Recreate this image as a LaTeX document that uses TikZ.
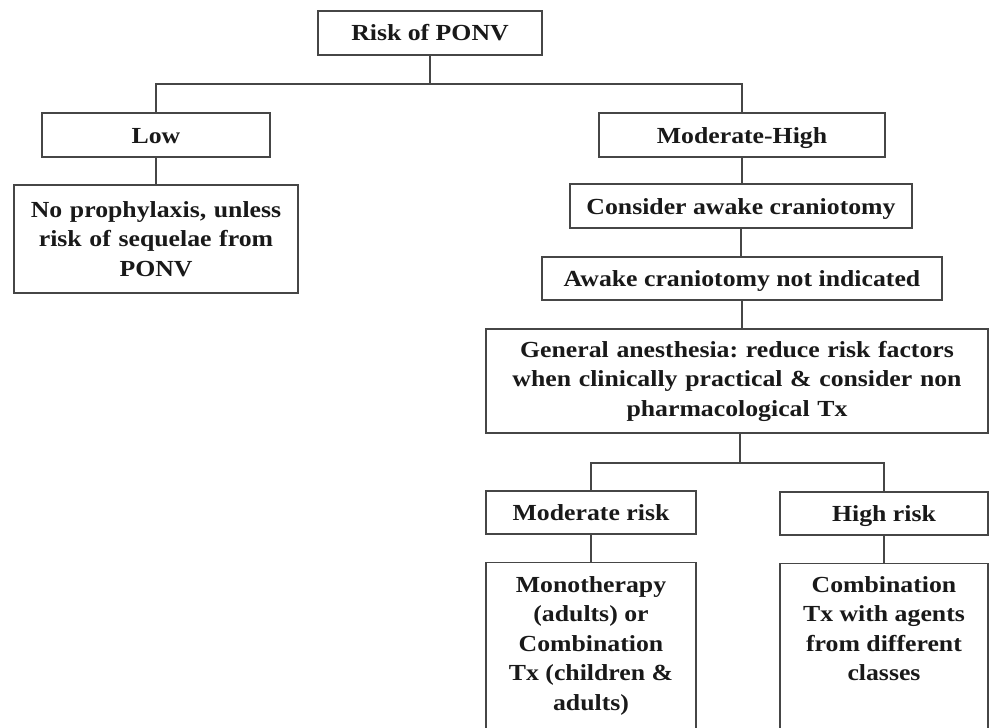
\documentclass[tikz,border=0pt]{standalone}
\usepackage{fontspec}
\setmainfont{Liberation Serif}[FakeStretch=1.12]
\definecolor{linec}{RGB}{70,70,70}
\definecolor{txt}{RGB}{25,25,25}
\frenchspacing
\begin{document}
\begin{tikzpicture}[x=1pt,y=-1pt,
  box/.style={draw=linec, line width=1.4pt, rectangle, inner sep=0pt,
    font=\bfseries\fontsize{23}{29.5}\selectfont, align=center, text=txt},
  one/.style={box, text height=16pt, text depth=0pt},
  plain/.style={inner sep=0pt, font=\bfseries\fontsize{23}{29.5}\selectfont, align=center, text=txt},
  conn/.style={draw=linec, line width=1.4pt}]
\useasboundingbox (0,0) rectangle (989,728);
\clip (0,0) rectangle (989,728);
\fill[white] (0,0) rectangle (989,728);

\node[one, minimum width=224pt, minimum height=44pt] (root) at (430,33) {Risk of PONV};
\node[one, minimum width=228pt, minimum height=44pt] (low) at (156,135) {Low};
\node[box, minimum width=284pt, minimum height=108pt, text width=280pt] (noproph) at (156,239)
  {No prophylaxis, unless\\risk of sequelae from\\PONV};
\node[one, minimum width=286pt, minimum height=44pt] (modhigh) at (742,135) {Moderate-High};
\node[one, minimum width=342pt, minimum height=44pt] (consider) at (741,206) {Consider awake craniotomy};
\node[one, minimum width=400pt, minimum height=43pt] (awake) at (742,278.5) {Awake craniotomy not indicated};
\node[box, minimum width=502pt, minimum height=104pt, text width=495pt] (ga) at (737,381)
  {General anesthesia: reduce risk factors\\when clinically practical \& consider non\\pharmacological Tx};
\node[one, minimum width=210pt, minimum height=43pt] (modrisk) at (591,512.5) {Moderate risk};
\node[one, minimum width=208pt, minimum height=43pt] (highrisk) at (884,513.5) {High risk};

\node[draw=linec, line width=1.4pt, rectangle, minimum width=210pt, minimum height=200pt, anchor=north] (mono) at (591,562) {};
\node[plain, anchor=north] (monotxt) at (mono.north |- 0,576)
  {Monotherapy\\(adults) or\\Combination\\Tx (children \&\\adults)};
\node[draw=linec, line width=1.4pt, rectangle, minimum width=208pt, minimum height=200pt, anchor=north] (combo) at (884,563) {};
\node[plain, anchor=north] (combotxt) at (combo.north |- 0,576)
  {Combination\\Tx with agents\\from different\\classes};

\coordinate (j1) at (430,84);
\draw[conn] (root.south) -- (j1);
\draw[conn] (low.north) |- (j1) -| (modhigh.north);
\draw[conn] (low.south) -- (low.south |- noproph.north);
\draw[conn] (modhigh.south) -- (modhigh.south |- consider.north);
\draw[conn] (consider.south) -- (consider.south |- awake.north);
\draw[conn] (awake.south) -- (awake.south |- ga.north);
\coordinate (j2) at (740,463);
\draw[conn] (ga.south -| j2) -- (j2);
\draw[conn] (modrisk.north) |- (j2) -| (highrisk.north);
\draw[conn] (modrisk.south) -- (modrisk.south |- mono.north);
\draw[conn] (highrisk.south) -- (highrisk.south |- combo.north);
\end{tikzpicture}
\end{document}
